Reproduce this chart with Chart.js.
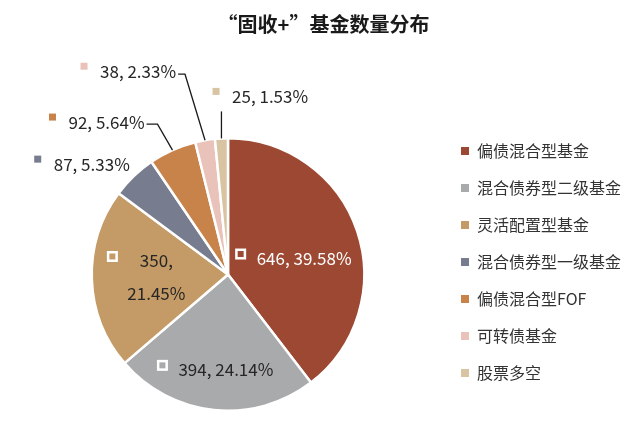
<!DOCTYPE html>
<html><head><meta charset="utf-8">
<script src="https://cdn.jsdelivr.net/npm/chart.js@4.4.1/dist/chart.umd.min.js"></script>
<style>html,body{margin:0;padding:0;background:#fff;} canvas{display:block;}</style>
</head><body>
<canvas id="c" width="640" height="421"></canvas>
<script>
// ---- data ----
const TITLE = '“固收+”基金数量分布';
const CATEGORIES = ['偏债混合型基金','混合债券型二级基金','灵活配置型基金','混合债券型一级基金','偏债混合型FOF','可转债基金','股票多空'];
const COUNTS = [646, 394, 350, 87, 92, 38, 25];
const COLORS = ['#9D4832','#A9AAAC','#C49B66','#777C8F','#C8834B','#E9C2BA','#D8C4A2'];

// ---- label placement (annotation layout, not data) ----
const LABEL_LAYOUT = [
  {inside:true,  r:0.571, da:6.9,  color:'#ffffff'},
  {inside:true,  r:0.70,  da:-4.7, color:'#262626'},
  {inside:true,  r:0.526, da:0,    color:'#262626', wrap:true},
  {inside:false, dx:-80,  dy:-12},
  {inside:false, dx:-104, dy:-28, elbow:[-15,-26]},
  {inside:false, dx:-105, dy:-69, elbow:[-20,-66]},
  {inside:false, dx:10.6, dy:-42, elbow:[0,-27], straight:true}
];

const FONT = "'Noto Sans CJK SC', 'Noto Sans', sans-serif";

const labelPlugin = {
  id: 'sliceLabels',
  afterDatasetsDraw(chart) {
    const ctx = chart.ctx;
    const meta = chart.getDatasetMeta(0);
    const data = chart.data.datasets[0].data;
    const colors = chart.data.datasets[0].backgroundColor;
    const total = data.reduce((a, b) => a + b, 0);
    ctx.save();
    ctx.font = '17px ' + FONT;
    ctx.textBaseline = 'middle';
    meta.data.forEach((arc, i) => {
      const L = LABEL_LAYOUT[i];
      const p = arc.getProps(['x','y','startAngle','endAngle','outerRadius'], true);
      const mid = (p.startAngle + p.endAngle) / 2;
      const R = p.outerRadius;
      const val = data[i];
      const pct = (val / total * 100).toFixed(2) + '%';
      if (L.inside) {
        const a = mid + L.da * Math.PI / 180;
        const ax = p.x + L.r * R * Math.cos(a);
        const ay = p.y + L.r * R * Math.sin(a);
        ctx.fillStyle = L.color;
        ctx.textAlign = 'center';
        let mx, my;
        if (L.wrap) {
          const y1 = ay - 16.5, y2 = ay + 16.5;
          ctx.fillText(val + ',', ax, y1);
          ctx.fillText(pct, ax, y2);
          mx = ax - 44; my = y1 - 4;
        } else {
          const txt = val + ', ' + pct;
          ctx.fillText(txt, ax, ay);
          const w = ctx.measureText(txt).width;
          mx = ax - w / 2 - 16; my = ay - 4.5;
        }
        ctx.strokeStyle = '#ffffff';
        ctx.lineWidth = 2.5;
        ctx.strokeRect(mx - 4.25, my - 4.25, 8.5, 8.5);
      } else {
        const ex = p.x + R * Math.cos(mid);
        const ey = p.y + R * Math.sin(mid);
        const tx = ex + L.dx, ty = ey + L.dy;
        const txt = val + ', ' + pct;
        ctx.fillStyle = '#262626';
        ctx.textAlign = 'left';
        ctx.fillText(txt, tx, ty);
        const w = ctx.measureText(txt).width;
        ctx.fillStyle = colors[i];
        ctx.fillRect(tx - 16 - 3.5, ty - 5 - 3.5, 7, 7);
        if (L.elbow) {
          ctx.strokeStyle = '#1a1a1a';
          ctx.lineWidth = 1.3;
          ctx.beginPath();
          ctx.moveTo(ex, ey);
          const bx = ex + L.elbow[0], by = ey + L.elbow[1];
          ctx.lineTo(bx, by);
          if (!L.straight) ctx.lineTo(tx + w + 2, by);
          ctx.stroke();
        }
      }
    });
    ctx.restore();
  }
};

const baseGen = Chart.overrides.doughnut.plugins.legend.labels.generateLabels;

new Chart(document.getElementById('c'), {
  type: 'pie',
  data: {
    labels: CATEGORIES,
    datasets: [{
      data: COUNTS,
      backgroundColor: COLORS,
      borderColor: '#ffffff',
      borderWidth: 2.5
    }]
  },
  options: {
    responsive: false,
    animation: false,
    layout: { padding: { top: 0, bottom: 9, left: 16, right: 9 } },
    plugins: {
      tooltip: { enabled: false },
      title: {
        display: true,
        text: TITLE,
        color: '#1a1a1a',
        font: { family: FONT, size: 20, weight: 'bold', lineHeight: 1.2 },
        padding: { top: 12, bottom: 101 }
      },
      legend: {
        display: true,
        position: 'right',
        align: 'center',
        title: { display: true, text: '', font: { size: 12, lineHeight: 1.2 }, padding: { top: 97.6, bottom: 0 } },
        labels: {
          boxWidth: 8,
          boxHeight: 8,
          padding: 21,
          color: '#333333',
          font: { family: FONT, size: 16 },
          generateLabels(chart) {
            return baseGen(chart).map(it => Object.assign(it, { lineWidth: 0, strokeStyle: 'rgba(0,0,0,0)' }));
          }
        }
      }
    }
  },
  plugins: [labelPlugin]
});
</script>
</body></html>
